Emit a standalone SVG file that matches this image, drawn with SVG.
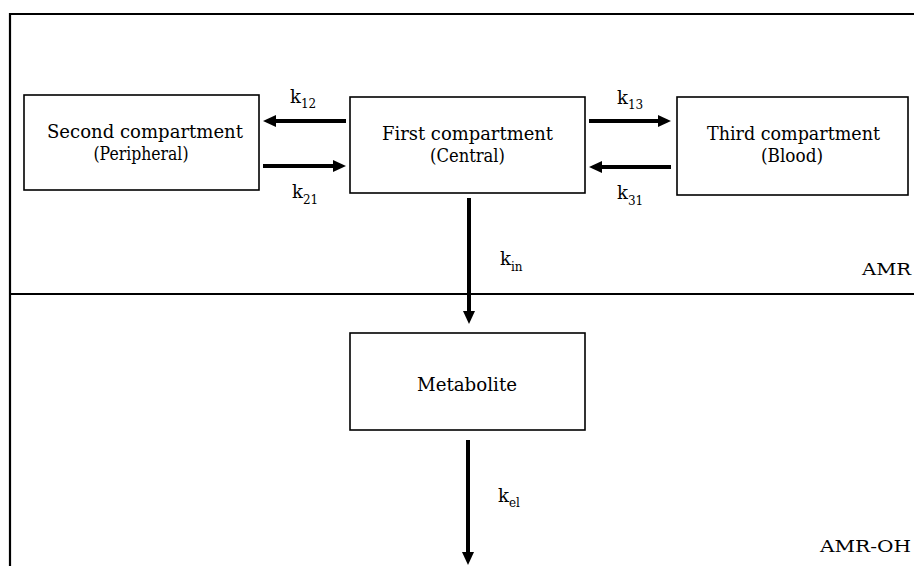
<svg xmlns="http://www.w3.org/2000/svg" width="914" height="566" viewBox="0 0 914 566">
<defs>
<marker id="ah" markerUnits="userSpaceOnUse" markerWidth="13" markerHeight="12" refX="1" refY="6" orient="auto">
<path d="M0,0 L13,6 L0,12 z" fill="#000"/>
</marker>
<style>
.box{fill:#fff;stroke:#000;stroke-width:1.6}
.t{font-family:"DejaVu Serif","Liberation Serif",serif;font-size:18px;fill:#000;text-anchor:middle}
.k{font-family:"DejaVu Serif","Liberation Serif",serif;font-size:18px;fill:#000}
.s{font-size:12px}
.lbl{font-family:"DejaVu Serif","Liberation Serif",serif;font-size:16px;fill:#000;text-anchor:end}
.arr{stroke:#000;stroke-width:4;fill:none;marker-end:url(#ah)}
.frame{stroke:#000;stroke-width:2.2;fill:none}
</style>
</defs>
<rect width="914" height="566" fill="#fff"/>
<g id="frame">
<path class="frame" d="M10,566 L10,14 L914,14"/>
<line class="frame" x1="10" y1="294" x2="914" y2="294"/>
<text class="lbl" x="911" y="275" textLength="49" lengthAdjust="spacingAndGlyphs">AMR</text>
<text class="lbl" x="911" y="552" textLength="91" lengthAdjust="spacingAndGlyphs">AMR-OH</text>
</g>
<g id="second">
<rect class="box" x="24" y="95" width="235" height="95"/>
<text class="t" x="145" y="138" textLength="196" lengthAdjust="spacingAndGlyphs">Second compartment</text>
<text class="t" x="141" y="160" textLength="95" lengthAdjust="spacingAndGlyphs">(Peripheral)</text>
</g>
<g id="first">
<rect class="box" x="350" y="97" width="235" height="96"/>
<text class="t" x="467.5" y="140" textLength="171" lengthAdjust="spacingAndGlyphs">First compartment</text>
<text class="t" x="467.5" y="162" textLength="75" lengthAdjust="spacingAndGlyphs">(Central)</text>
</g>
<g id="third">
<rect class="box" x="677" y="97" width="231" height="98"/>
<text class="t" x="793.5" y="140" textLength="173" lengthAdjust="spacingAndGlyphs">Third compartment</text>
<text class="t" x="792" y="162" textLength="62" lengthAdjust="spacingAndGlyphs">(Blood)</text>
</g>
<g id="metabolite">
<rect class="box" x="350" y="333" width="235" height="97"/>
<text class="t" x="467" y="391" textLength="100" lengthAdjust="spacingAndGlyphs">Metabolite</text>
</g>
<g id="connectors">
<line class="arr" x1="346" y1="121" x2="275" y2="121"/>
<line class="arr" x1="263" y1="166" x2="334" y2="166"/>
<line class="arr" x1="589" y1="121" x2="659" y2="121"/>
<line class="arr" x1="671" y1="167" x2="601" y2="167"/>
<line class="arr" x1="469" y1="198" x2="469" y2="312"/>
<line class="arr" x1="468" y1="440" x2="468" y2="553"/>
<text class="k" x="290" y="103">k<tspan class="s" dy="5">12</tspan></text>
<text class="k" x="292" y="198">k<tspan class="s" dy="6">21</tspan></text>
<text class="k" x="617" y="104">k<tspan class="s" dy="5">13</tspan></text>
<text class="k" x="617" y="199">k<tspan class="s" dy="6">31</tspan></text>
<text class="k" x="500" y="265">k<tspan class="s" dy="6">in</tspan></text>
<text class="k" x="498" y="502">k<tspan class="s" dy="5">el</tspan></text>
</g>
</svg>
